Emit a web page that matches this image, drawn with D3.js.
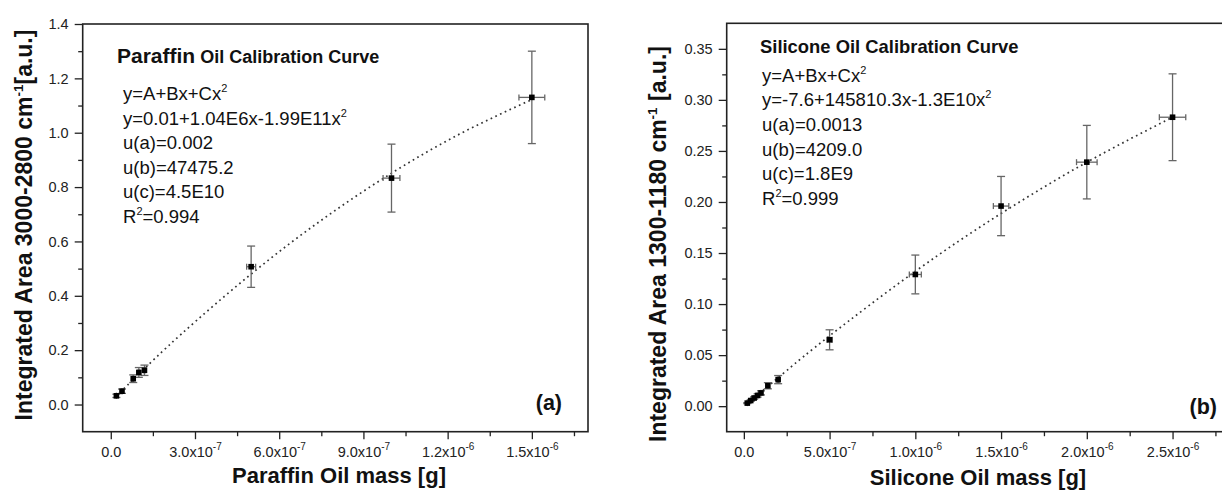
<!DOCTYPE html>
<html>
<head>
<meta charset="utf-8">
<script src="https://cdn.jsdelivr.net/npm/d3@7"></script>
<style>
  body { margin: 0; background: #fff; }
  svg { display: block; font-family: "Liberation Sans", Arial, sans-serif; }
  .tick text { font-size: 14.5px; fill: #222; }
  .tick line { stroke: #222; stroke-width: 1.3px; }
</style>
</head>
<body>
<div id="chart-area"></div>
<script>
// values

// (a) paraffin oil
const paraffinMass = [2e-8, 4e-8, 8e-8, 1.0e-7, 1.2e-7, 5e-7, 1.0e-6, 1.5e-6]
const paraffinArea = [0.032, 0.049, 0.095, 0.118, 0.126, 0.507, 0.833, 1.130]
const paraffinAreaErr = [0.006, 0.008, 0.014, 0.018, 0.019, 0.076, 0.125, 0.170]
const paraffinMassErr = [6e-10, 1.2e-9, 2.4e-9, 3e-9, 3.6e-9, 1.6e-8, 3e-8, 4.6e-8]
const paraffinFitMass = [2e-8, 1e-7, 2.5e-7, 5e-7, 7.5e-7, 1e-6, 1.25e-6, 1.5e-6]
const paraffinFitArea = [0.031, 0.112, 0.258, 0.480, 0.678, 0.851, 0.999, 1.122]
const paraffinXTicks = [0, 3e-7, 6e-7, 9e-7, 1.2e-6, 1.5e-6]
const paraffinXMinor = [1.5e-7, 4.5e-7, 7.5e-7, 1.05e-6, 1.35e-6, 1.65e-6]
const paraffinYTicks = [0, 0.2, 0.4, 0.6, 0.8, 1.0, 1.2, 1.4]
const paraffinYMinor = [0.1, 0.3, 0.5, 0.7, 0.9, 1.1, 1.3]
const paraffinEq = [
  "y=A+Bx+Cx^{2}",
  "y=0.01+1.04E6x-1.99E11x^{2}",
  "u(a)=0.002",
  "u(b)=47475.2",
  "u(c)=4.5E10",
  "R^{2}=0.994"
]

// (b) silicone oil
const siliconeMass = [2e-8, 4e-8, 6e-8, 8e-8, 1.0e-7, 1.4e-7, 2.0e-7, 5e-7, 1.0e-6, 1.5e-6, 2.0e-6, 2.5e-6]
const siliconeArea = [0.003, 0.0055, 0.008, 0.0105, 0.013, 0.020, 0.026, 0.065, 0.129, 0.196, 0.239, 0.283]
const siliconeAreaErr = [0.0005, 0.0008, 0.0012, 0.0016, 0.002, 0.003, 0.004, 0.0098, 0.019, 0.029, 0.036, 0.0425]
const siliconeMassErr = [6e-10, 1.2e-9, 1.8e-9, 2.4e-9, 3e-9, 4.2e-9, 6e-9, 1.5e-8, 3.5e-8, 4.5e-8, 6e-8, 7.7e-8]
const siliconeFitMass = [2e-8, 1e-7, 2.5e-7, 5e-7, 1e-6, 1.5e-6, 2e-6, 2.5e-6]
const siliconeFitArea = [0.0022, 0.0137, 0.0349, 0.0689, 0.1321, 0.1887, 0.2389, 0.2830]
const siliconeXTicks = [0, 5e-7, 1e-6, 1.5e-6, 2e-6, 2.5e-6]
const siliconeXMinor = [2.5e-7, 7.5e-7, 1.25e-6, 1.75e-6, 2.25e-6, 2.75e-6]
const siliconeYTicks = [0, 0.05, 0.10, 0.15, 0.20, 0.25, 0.30, 0.35]
const siliconeYMinor = [0.025, 0.075, 0.125, 0.175, 0.225, 0.275, 0.325]
const siliconeEq = [
  "y=A+Bx+Cx^{2}",
  "y=-7.6+145810.3x-1.3E10x^{2}",
  "u(a)=0.0013",
  "u(b)=4209.0",
  "u(c)=1.8E9",
  "R^{2}=0.999"
]

const svg = d3.select("#chart-area").append("svg")
  .attr("width", 1222)
  .attr("height", 498)

// writes "abc^{sup}def" as tspans with raised superscripts
function richText(sel, str, supSize, rise) {
  const parts = str.split(/\^\{([^}]*)\}/)
  let shift = 0
  parts.forEach((p, i) => {
    if (p === "") return
    const ts = sel.append("tspan").text(p)
    if (i % 2 === 1) {
      ts.attr("font-size", supSize).attr("dy", -rise)
      shift = rise
    } else if (shift) {
      ts.attr("dy", shift)
      shift = 0
    }
  })
}

function drawPanel(p) {
  const x = d3.scaleLinear().domain(p.xDomain).range([p.left, p.right])
  const y = d3.scaleLinear().domain(p.yDomain).range([p.bottom, p.top])
  const g = svg.append("g")

  // minor ticks
  g.append("g")
    .attr("transform", `translate(0, ${p.bottom})`)
    .call(d3.axisBottom(x).tickValues(p.xMinor).tickSize(4.5).tickFormat(""))
    .call(a => a.select(".domain").remove())
    .call(a => a.selectAll("text").remove())
  g.append("g")
    .attr("transform", `translate(${p.left}, 0)`)
    .call(d3.axisLeft(y).tickValues(p.yMinor).tickSize(4.5).tickFormat(""))
    .call(a => a.select(".domain").remove())
    .call(a => a.selectAll("text").remove())

  // major x ticks, labels like 3.0x10^-7
  const xAxis = g.append("g")
    .attr("class", "x axis")
    .attr("transform", `translate(0, ${p.bottom})`)
    .call(d3.axisBottom(x).tickValues(p.xTicks).tickSize(7.5).tickPadding(8).tickFormat(""))
  xAxis.select(".domain").remove()
  xAxis.selectAll(".tick text").each(function(d) {
    const t = d3.select(this)
    if (d === 0) { t.text("0.0"); return }
    const e = Math.floor(Math.log10(d) + 1e-9)
    const m = d / Math.pow(10, e)
    t.append("tspan").text(m.toFixed(1) + "x10")
    t.append("tspan").attr("font-size", "10px").attr("dy", "-7").text(e)
  })

  // major y ticks
  g.append("g")
    .attr("class", "y axis")
    .attr("transform", `translate(${p.left}, 0)`)
    .call(d3.axisLeft(y).tickValues(p.yTicks).tickSize(8).tickPadding(6).tickFormat(d3.format(p.yFmt)))
    .call(a => a.select(".domain").remove())

  // frame
  g.append("rect")
    .attr("x", p.left).attr("y", p.top)
    .attr("width", p.right - p.left).attr("height", p.bottom - p.top)
    .attr("fill", "none").attr("stroke", "#222").attr("stroke-width", 1.6)

  // fitted curve (dotted)
  const line = d3.line()
    .x(d => x(d[0]))
    .y(d => y(d[1]))
    .curve(d3.curveNatural)
  g.append("path")
    .attr("fill", "none")
    .attr("stroke", "#333")
    .attr("stroke-width", 1.7)
    .attr("stroke-dasharray", "1.7,3.5")
    .attr("d", line(d3.zip(p.fitX, p.fitY)))

  // error bars
  const pts = p.mass.map((m, i) => ({ m, a: p.area[i], ea: p.areaErr[i], em: p.massErr[i] }))
  const eb = g.append("g").attr("stroke", "#666").attr("stroke-width", 1.3)
  pts.forEach(d => {
    const cx = x(d.m), cy = y(d.a)
    const yt = y(d.a + d.ea), yb = y(d.a - d.ea)
    const xl = x(d.m - d.em), xr = x(d.m + d.em)
    eb.append("line").attr("x1", cx).attr("x2", cx).attr("y1", yt).attr("y2", yb)
    eb.append("line").attr("x1", cx - 4).attr("x2", cx + 4).attr("y1", yt).attr("y2", yt)
    eb.append("line").attr("x1", cx - 4).attr("x2", cx + 4).attr("y1", yb).attr("y2", yb)
    eb.append("line").attr("x1", xl).attr("x2", xr).attr("y1", cy).attr("y2", cy)
    eb.append("line").attr("x1", xl).attr("x2", xl).attr("y1", cy - 3).attr("y2", cy + 3)
    eb.append("line").attr("x1", xr).attr("x2", xr).attr("y1", cy - 3).attr("y2", cy + 3)
  })

  // markers
  g.selectAll("rect.pt").data(pts).enter().append("rect")
    .attr("class", "pt")
    .attr("x", d => x(d.m) - 2.8)
    .attr("y", d => y(d.a) - 2.8)
    .attr("width", 5.6).attr("height", 5.6)
    .attr("fill", "#000")

  // title inside the plot
  const title = g.append("text")
    .attr("x", p.titlePos[0]).attr("y", p.titlePos[1])
    .attr("font-weight", "bold").attr("fill", "#111")
  p.title.forEach(t => title.append("tspan").attr("font-size", t[1]).text(t[0]))

  // equation block
  p.eq.forEach((s, i) => {
    const t = g.append("text")
      .attr("x", p.eqPos[0]).attr("y", p.eqPos[1] + i * 24.6)
      .attr("font-size", "18.5px").attr("fill", "#111")
    richText(t, s, "11px", 8)
  })

  // panel letter
  g.append("text")
    .attr("x", p.letterPos[0]).attr("y", p.letterPos[1])
    .attr("text-anchor", "end")
    .attr("font-size", "21.5px").attr("font-weight", "bold").attr("fill", "#111")
    .text(p.letter)

  // axis titles
  g.append("text")
    .attr("x", p.xTitlePos[0]).attr("y", p.xTitlePos[1])
    .attr("text-anchor", "middle")
    .attr("font-size", "22px").attr("font-weight", "bold").attr("fill", "#111")
    .text(p.xTitle)

  const yt = g.append("text")
    .attr("transform", `translate(${p.yTitlePos[0]}, ${p.yTitlePos[1]}) rotate(-90)`)
    .attr("text-anchor", "middle")
    .attr("font-size", "23px").attr("font-weight", "bold").attr("fill", "#111")
  richText(yt, p.yTitle, "13.5px", 9)
}

drawPanel({
  left: 82.7, right: 588, top: 24, bottom: 431.7,
  xDomain: [-1e-7, 1.7e-6], yDomain: [-0.1, 1.4],
  xTicks: paraffinXTicks, xMinor: paraffinXMinor,
  yTicks: paraffinYTicks, yMinor: paraffinYMinor, yFmt: ".1f",
  mass: paraffinMass, area: paraffinArea,
  areaErr: paraffinAreaErr, massErr: paraffinMassErr,
  fitX: paraffinFitMass, fitY: paraffinFitArea,
  title: [["Paraffin", "21px"], [" Oil Calibration Curve", "18px"]],
  titlePos: [117, 63],
  eq: paraffinEq, eqPos: [123, 100],
  letter: "(a)", letterPos: [562, 410],
  xTitle: "Paraffin Oil mass [g]", xTitlePos: [339, 483],
  yTitle: "Integrated Area 3000-2800 cm^{-1}[a.u.]", yTitlePos: [32, 225]
})

drawPanel({
  left: 726.7, right: 1224, top: 23.3, bottom: 431.7,
  xDomain: [-1e-7, 2.8e-6], yDomain: [-0.025, 0.375],
  xTicks: siliconeXTicks, xMinor: siliconeXMinor,
  yTicks: siliconeYTicks, yMinor: siliconeYMinor, yFmt: ".2f",
  mass: siliconeMass, area: siliconeArea,
  areaErr: siliconeAreaErr, massErr: siliconeMassErr,
  fitX: siliconeFitMass, fitY: siliconeFitArea,
  title: [["Silicone Oil Calibration Curve", "18.4px"]],
  titlePos: [760, 53],
  eq: siliconeEq, eqPos: [762, 81.7],
  letter: "(b)", letterPos: [1217, 414],
  xTitle: "Silicone Oil mass [g]", xTitlePos: [978, 485],
  yTitle: "Integrated Area 1300-1180 cm^{-1} [a.u.]", yTitlePos: [666, 244]
})
</script>
</body>
</html>
